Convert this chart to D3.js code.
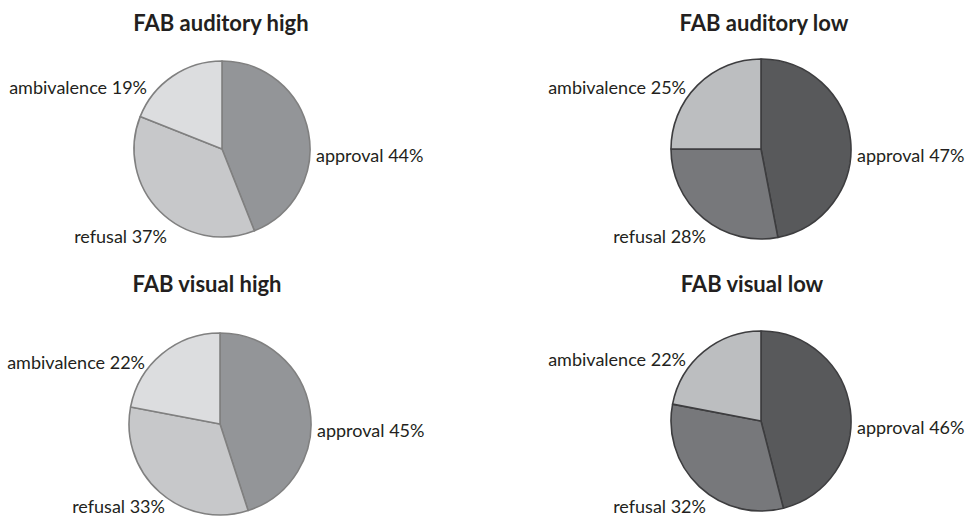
<!DOCTYPE html>
<html>
<head>
<meta charset="utf-8">
<script src="https://cdn.jsdelivr.net/npm/d3@7"></script>
<style>
  html, body { margin: 0; padding: 0; background: #fff; }
  svg { display: block; }
  .title { font-family: Lato, "Open Sans", sans-serif; font-weight: bold; fill: #231f20; }
  .label { font-family: Lato, "Open Sans", sans-serif; fill: #231f20; }
</style>
</head>
<body>
<svg id="chart" width="967" height="516"></svg>
<script>
// Answer categories, in drawing order (clockwise from 12 o'clock)
const categories = ["approval", "refusal", "ambivalence"];

// Panel titles
const panelTitles = ["FAB auditory high", "FAB auditory low", "FAB visual high", "FAB visual low"];

// Percent shares per panel (approval, refusal, ambivalence)
const auditoryHigh = [44, 37, 19];
const auditoryLow  = [47, 28, 25];
const visualHigh   = [45, 33, 22];
const visualLow    = [46, 32, 22];

// Grey palettes for the "high" and "low" groups
const highColors = ["#939598", "#c7c8ca", "#dcdddf"];
const lowColors  = ["#58595b", "#77787b", "#bcbec0"];

const width = 967, height = 516;
const svg = d3.select("#chart");

// Layout of the four panels
const panels = [
  { title: panelTitles[0], values: auditoryHigh, colors: highColors, stroke: "#808080",
    cx: 222, cy: 149, r: 88, tx: 221, ty: 31 },
  { title: panelTitles[1], values: auditoryLow,  colors: lowColors,  stroke: "#3d3d3f",
    cx: 761, cy: 149, r: 90, tx: 764, ty: 31 },
  { title: panelTitles[2], values: visualHigh,   colors: highColors, stroke: "#808080",
    cx: 220, cy: 424, r: 91, tx: 207, ty: 292 },
  { title: panelTitles[3], values: visualLow,    colors: lowColors,  stroke: "#3d3d3f",
    cx: 761, cy: 421, r: 90, tx: 752, ty: 292 }
];

// Label placement around each pie, per category (kept inside the canvas)
const labelPlacement = {
  approval:    (p) => ({ x: p.cx + p.r + 6, y: p.cy + 13, anchor: "start" }),
  refusal:     (p) => ({ x: p.cx - 55,      y: Math.min(p.cy + 94, height - 3), anchor: "end" }),
  ambivalence: (p) => ({ x: p.cx - 75,      y: p.cy - 55, anchor: "end" })
};

const pie = d3.pie().sort(null).value(d => d.value);

panels.forEach(p => {
  const g = svg.append("g");
  const data = categories.map((c, i) => ({ category: c, value: p.values[i], color: p.colors[i] }));
  const arcs = pie(data);
  const arc = d3.arc().innerRadius(0).outerRadius(p.r);

  g.append("g")
    .attr("transform", `translate(${p.cx},${p.cy})`)
    .selectAll("path")
    .data(arcs)
    .join("path")
    .attr("d", arc)
    .attr("fill", d => d.data.color)
    .attr("stroke", p.stroke)
    .attr("stroke-width", 1.6)
    .attr("stroke-linejoin", "round");

  g.selectAll("text.label")
    .data(arcs)
    .join("text")
    .attr("class", "label")
    .each(function(d) {
      const pos = labelPlacement[d.data.category](p);
      d3.select(this)
        .attr("x", pos.x)
        .attr("y", pos.y)
        .attr("text-anchor", pos.anchor);
    })
    .style("font-size", "18px")
    .text(d => `${d.data.category} ${d.data.value}%`);

  g.append("text")
    .attr("class", "title")
    .attr("x", p.tx)
    .attr("y", p.ty)
    .attr("text-anchor", "middle")
    .style("font-size", "22px")
    .text(p.title);
});
</script>
</body>
</html>
